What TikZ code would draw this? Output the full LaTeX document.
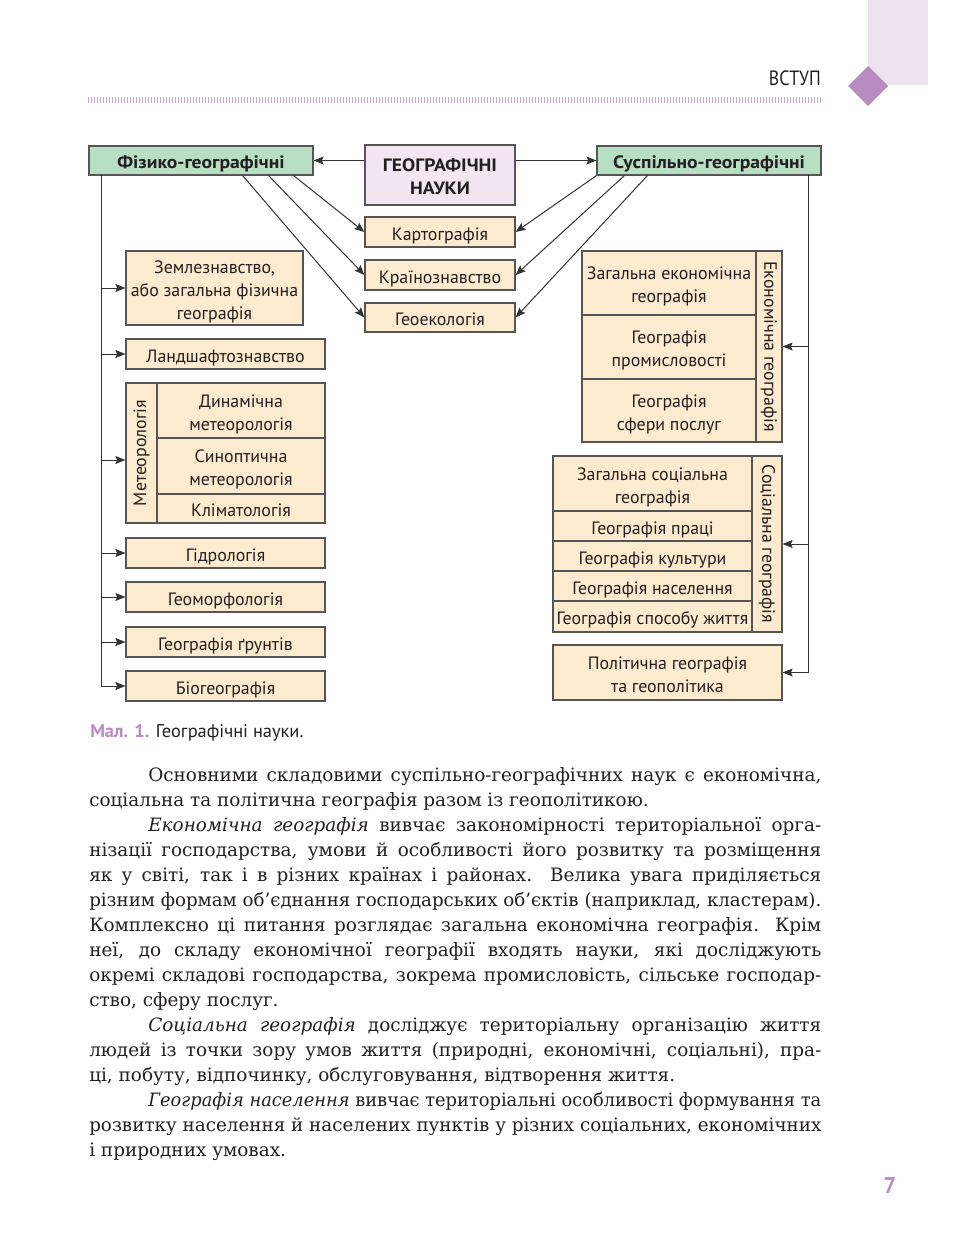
\documentclass[tikz,border=0pt]{standalone}
\usepackage{graphicx}
\usepackage{fontspec}
\setmainfont{DejaVu Serif}
\newfontfamily\dsans{PT Sans}
\usetikzlibrary{arrows.meta,calc}
\definecolor{peach}{HTML}{FDEBCF}
\definecolor{grn}{HTML}{B7DFC3}
\definecolor{lav}{HTML}{F2E6F3}
\definecolor{bord}{HTML}{555555}
\definecolor{ink}{HTML}{231F20}
\definecolor{lnc}{HTML}{333333}
\definecolor{purp}{HTML}{B68CC1}
\definecolor{tab}{HTML}{EEE2EF}
\newcommand\dfont{\dsans\fontsize{13.4}{17.3}\selectfont}
\newcommand\bfontx{\fontsize{13.8}{16}\selectfont}
\newcommand\ct[1]{\makebox[0pt]{\begin{tabular}[b]{@{}c@{}}#1\end{tabular}}}
\newcommand\bt[1]{\makebox[0pt]{\scalebox{1.1}[1]{\begin{tabular}[b]{@{}c@{}}#1\end{tabular}}}}
\newcommand\pbx[7][]{\node[bx,#1,minimum width={(#5-#3)*0.75pt},minimum height={(#6-#4)*0.75pt}] (#2) at ({(#3+#5)/2},{(#4+#6)/2}) {#7};}
\newlength\LW \setlength\LW{549pt}
\newlength\LWi \setlength\LWi{504.75pt}
\newsavebox\lnbox
\newcommand\jl[2]{\sbox\lnbox{#2}\ifdim\wd\lnbox>#1\relax\resizebox{#1}{\height}{\usebox\lnbox}\else\hbox to #1{#2}\fi}
\tikzset{
  bx/.style={draw=bord, fill=peach, line width=0.9pt, inner sep=0pt, text depth=0pt, font=\dfont, text=ink},
  gbx/.style={fill=grn, font=\dfont\bfseries},
  rot/.style={inner sep=0pt, font=\dfont, text=ink},
  arr/.style={draw=lnc, line width=0.75pt, -{Stealth[length=7.5pt,width=6pt,inset=1.3pt]}},
  ln/.style={draw=lnc, line width=0.75pt},
  tline/.style={anchor=base west, inner sep=0pt, font=\bfontx, text=ink}
}
\begin{document}
\begin{tikzpicture}[x={(0.75pt,0)}, y={(0,-0.75pt)}]
\useasboundingbox (0,0) rectangle (975,1241);
% header
\fill[tab] (868,0) rectangle (928,85);
\fill[purp] (848,86) -- (868,66) -- (888,86) -- (868,106) -- cycle;
\node[anchor=east, inner sep=0pt, font=\dsans\fontsize{15.5}{16}\selectfont, text=ink] (hdr) at (821,78) {\scalebox{0.86}[1]{ВСТУП}};
\draw[purp!75, line width=4.5pt, dash pattern=on 0.8pt off 1.45pt] (88,100) -- (822,100);

% top row
\pbx[gbx]{fiz}{89}{146}{313}{175}{\bt{Фізико-географічні}}
\pbx[fill=lav, font=\dfont\bfseries]{geo}{365}{145}{515}{205}{\bt{ГЕОГРАФІЧНІ\\НАУКИ}}
\pbx[gbx]{sus}{597}{146}{821}{175}{\bt{Суспільно-географічні}}
\pbx{kart}{365}{217}{515}{247}{\ct{Картографія}}
\pbx{kraj}{365}{260}{515}{290}{\ct{Країнознавство}}
\pbx{geoe}{365}{303}{515}{332}{\ct{Геоекологія}}

\draw[arr] (geo.west |- fiz.east) -- (fiz.east);
\draw[arr] (geo.east |- sus.west) -- (sus.west);
\coordinate (f1) at ($(fiz.south east)+(-20,0)$);
\coordinate (f2) at ($(fiz.south east)+(-45,0)$);
\coordinate (f3) at ($(fiz.south east)+(-71,0)$);
\coordinate (s1) at ($(sus.south west)+(0,0)$);
\coordinate (s2) at ($(sus.south west)+(28,0)$);
\coordinate (s3) at ($(sus.south west)+(51,0)$);
\draw[arr] (f1) -- (kart.west);
\draw[arr] (f2) -- (kraj.west);
\draw[arr] (f3) -- (geoe.west);
\draw[arr] (s1) -- (kart.east);
\draw[arr] (s2) -- (kraj.east);
\draw[arr] (s3) -- (geoe.east);

% left column
\pbx{zem}{126}{251}{303}{325}{\ct{Землезнавство,\\або загальна фізична\\географія}}
\pbx{land}{126}{339}{325}{369}{\ct{Ландшафтознавство}}
\pbx{met}{126}{383}{325}{523}{}
\pbx{met1}{157}{383}{325}{438}{\ct{Динамічна\\метеорологія}}
\pbx{met2}{157}{438}{325}{494}{\ct{Синоптична\\метеорологія}}
\pbx{met3}{157}{494}{325}{523}{\ct{Кліматологія}}
\node[rot, rotate=90] (metl) at (141.5,453) {Метеорологія};
\pbx{gidr}{126}{538}{325}{568}{\ct{Гідрологія}}
\pbx{geom}{126}{582}{325}{612}{\ct{Геоморфологія}}
\pbx{grunt}{126}{627}{325}{657}{\ct{Географія ґрунтів}}
\pbx{bio}{126}{671}{325}{701}{\ct{Біогеографія}}

\coordinate (lv) at (101,175);
\coordinate (metin) at ($(met.west)+(0,7)$);
\draw[ln] (lv) -- (lv |- bio.west);
\draw[arr] (lv |- bio.west) -- (bio.west);
\draw[arr] (lv |- zem.west) -- (zem.west);
\draw[arr] (lv |- land.west) -- (land.west);
\draw[arr] (lv |- metin) -- (metin);
\draw[arr] (lv |- gidr.west) -- (gidr.west);
\draw[arr] (lv |- geom.west) -- (geom.west);
\draw[arr] (lv |- grunt.west) -- (grunt.west);

% right column
\pbx{eco}{582}{251}{782}{442}{}
\pbx{eco1}{582}{251}{756}{315}{\ct{Загальна економічна\\географія}}
\pbx{eco2}{582}{315}{756}{379}{\ct{Географія\\промисловості}}
\pbx{eco3}{582}{379}{756}{442}{\ct{Географія\\сфери послуг}}
\node[rot, rotate=-90] (ecol) at (769,346.5) {Економічна географія};

\pbx{soc}{553}{456}{782}{632}{}
\pbx{soc1}{553}{456}{752}{511}{\ct{Загальна соціальна\\географія}}
\pbx{soc2}{553}{511}{752}{541}{\ct{Географія праці}}
\pbx{soc3}{553}{541}{752}{571}{\ct{Географія культури}}
\pbx{soc4}{553}{571}{752}{601}{\ct{Географія населення}}
\pbx{soc5}{553}{601}{752}{632}{\ct{Географія способу життя}}
\node[rot, rotate=-90] (socl) at (767,544) {Соціальна географія};

\pbx{pol}{553}{645}{782}{700}{\ct{Політична географія\\та геополітика}}

\coordinate (rv) at (808,175);
\draw[ln] (rv) -- (rv |- pol.east);
\draw[arr] (rv |- pol.east) -- (pol.east);
\draw[arr] (rv |- eco.east) -- (eco.east);
\draw[arr] (rv |- soc.east) -- (soc.east);

% caption
\node[anchor=west, inner sep=0pt, font=\dsans\fontsize{13.8}{15}\selectfont, text=ink] (cap) at (90,733) {\textcolor{purp}{\bfseries Мал. 1.} Географічні науки.};

% body text
\node[tline] (t1) at (148,781.5) {\jl{\LWi}{Основними складовими суспільно-географічних наук є економічна,}};
\node[tline] (t2) at (89,806.5) {соціальна та політична географія разом із геополітикою.};
\node[tline] (t3) at (148,831.5) {\jl{\LWi}{\textit{Економічна географія} вивчає закономірності територіальної орга-}};
\node[tline] (t4) at (89,856.5) {\jl{\LW}{нізації господарства, умови й особливості його розвитку та розміщення}};
\node[tline] (t5) at (89,881.5) {\jl{\LW}{як у світі, так і в різних країнах і районах. Велика увага приділяється}};
\node[tline] (t6) at (89,906.5) {\jl{\LW}{різним формам об’єднання господарських об’єктів (наприклад, кластерам).}};
\node[tline] (t7) at (89,931.5) {\jl{\LW}{Комплексно ці питання розглядає загальна економічна географія. Крім}};
\node[tline] (t8) at (89,956.5) {\jl{\LW}{неї, до складу економічної географії входять науки, які досліджують}};
\node[tline] (t9) at (89,981.5) {\jl{\LW}{окремі складові господарства, зокрема промисловість, сільське господар-}};
\node[tline] (t10) at (89,1006.5) {ство, сферу послуг.};
\node[tline] (t11) at (148,1031.5) {\jl{\LWi}{\textit{Соціальна географія} досліджує територіальну організацію життя}};
\node[tline] (t12) at (89,1056.5) {\jl{\LW}{людей із точки зору умов життя (природні, економічні, соціальні), пра-}};
\node[tline] (t13) at (89,1081.5) {ці, побуту, відпочинку, обслуговування, відтворення життя.};
\node[tline] (t14) at (148,1106.5) {\jl{\LWi}{\textit{Географія населення} вивчає територіальні особливості формування та}};
\node[tline] (t15) at (89,1131.5) {\jl{\LW}{розвитку населення й населених пунктів у різних соціальних, економічних}};
\node[tline] (t16) at (89,1156.5) {і природних умовах.};

% page number
\node[inner sep=0pt, font=\dsans\bfseries\fontsize{17}{17}\selectfont, text=purp] (pg) at (890,1186) {7};
\end{tikzpicture}
\end{document}
